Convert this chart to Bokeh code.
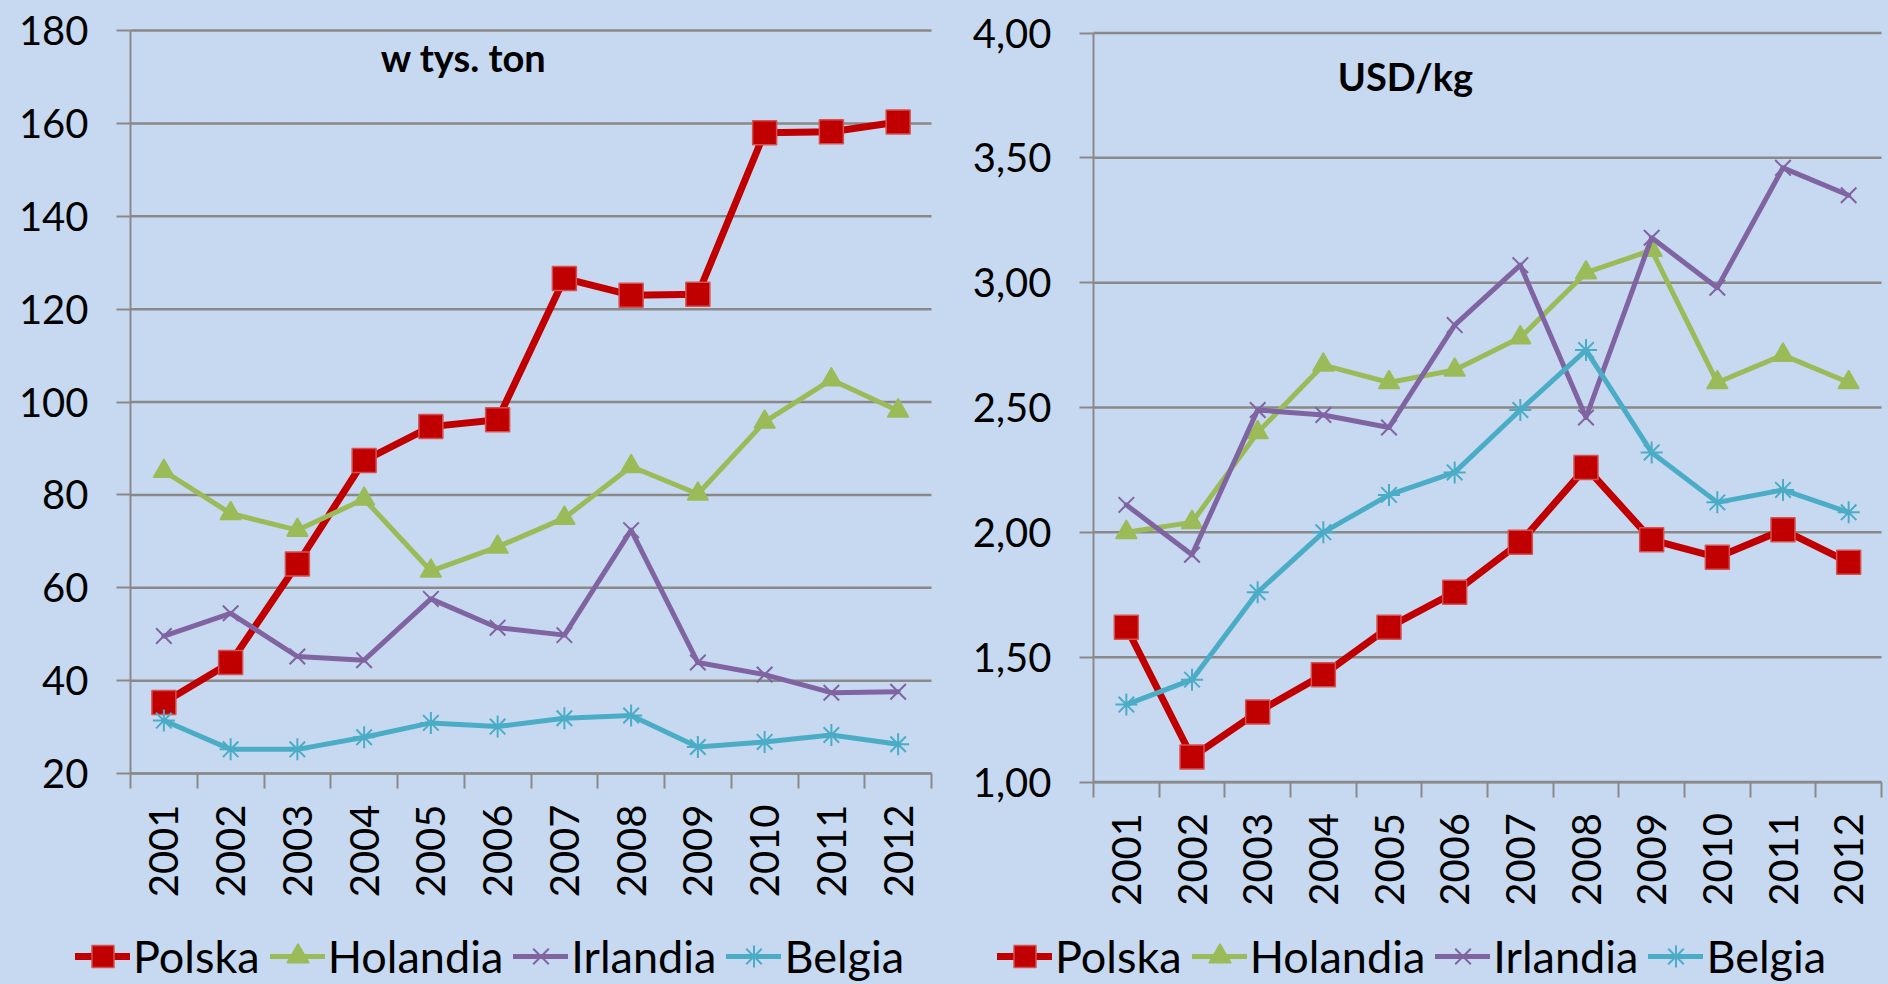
import math
from bokeh.plotting import figure
from bokeh.models import (Range1d, FixedTicker, Legend, LegendItem, Label, LinearAxis)
from bokeh.embed import file_html
from bokeh.resources import INLINE

# ---------------- data ----------------
years = ["2001", "2002", "2003", "2004", "2005", "2006",
         "2007", "2008", "2009", "2010", "2011", "2012"]
series_names = ["Polska", "Holandia", "Irlandia", "Belgia"]

# volume, thousand tonnes
vol_polska = [35.3, 43.9, 65.1, 87.4, 94.7, 96.2, 126.6, 123.0, 123.2, 158.0, 158.2, 160.3]
vol_holandia = [85.1, 76.0, 72.4, 79.1, 63.6, 68.8, 75.0, 86.1, 80.2, 95.7, 104.8, 98.1]
vol_irlandia = [49.6, 54.5, 45.2, 44.4, 57.6, 51.4, 49.8, 72.4, 43.9, 41.3, 37.4, 37.6]
vol_belgia = [31.4, 25.2, 25.2, 27.8, 30.9, 30.1, 31.9, 32.5, 25.7, 26.8, 28.3, 26.3]

# price, USD/kg
price_polska = [1.62, 1.10, 1.28, 1.43, 1.62, 1.76, 1.96, 2.26, 1.97, 1.90, 2.01, 1.88]
price_holandia = [2.00, 2.04, 2.40, 2.67, 2.60, 2.65, 2.78, 3.04, 3.13, 2.60, 2.71, 2.60]
price_irlandia = [2.11, 1.91, 2.49, 2.47, 2.42, 2.83, 3.07, 2.46, 3.18, 2.98, 3.46, 3.35]
price_belgia = [1.31, 1.41, 1.76, 2.00, 2.15, 2.24, 2.49, 2.73, 2.32, 2.12, 2.17, 2.08]

vol_ticks = [20, 40, 60, 80, 100, 120, 140, 160, 180]
price_ticks = [1.0, 1.5, 2.0, 2.5, 3.0, 3.5, 4.0]
price_tick_labels = ["1,00", "1,50", "2,00", "2,50", "3,00", "3,50", "4,00"]

# ---------------- style / layout ----------------
BG = "#C6D9F0"
GRID = "#898989"
FONT = "Lato"
W, H = 1888, 984          # visible page
HIDDEN_LEFT = 400         # reserved axis panel, shifted off-screen
styles = {
    "Polska": dict(color="#C00000", marker="square", lw=7, size=24, line="#D65050"),
    "Holandia": dict(color="#9BBB59", marker="triangle", lw=5, size=21, line="#9BBB59"),
    "Irlandia": dict(color="#8064A2", marker="x", lw=5, size=22, line="#8064A2"),
    "Belgia": dict(color="#4BACC6", marker="asterisk", lw=5, size=22, line="#4BACC6"),
}

xs = [i + 1 for i in range(len(years))]
x_lo, x_hi = 0.5, len(years) + 0.5

# plot-area pixel boxes of the two charts: (left, right, top, bottom)
box_vol = (130, 931, 30, 773)
box_price = (1093, 1881, 32.5, 781.5)


def ranges_for(box, ylo, yhi):
    l, r, t, b = box
    kx = (r - l) / (x_hi - x_lo)
    xs0 = x_lo - l / kx
    ky = (b - t) / (yhi - ylo)
    ys0 = ylo - (H - b) / ky
    return Range1d(xs0, xs0 + W / kx), Range1d(ys0, ys0 + H / ky)


vx_r, vy_r = ranges_for(box_vol, vol_ticks[0], vol_ticks[-1])
px_r, py_r = ranges_for(box_price, price_ticks[0], price_ticks[-1])

p = figure(frame_width=W, frame_height=H, output_backend="svg", toolbar_location=None,
           x_range=vx_r, y_range=vy_r,
           min_border_left=HIDDEN_LEFT, min_border_right=0, min_border_top=0,
           min_border_bottom=0)
p.extra_x_ranges = {"price": px_r}
p.extra_y_ranges = {"price": py_r}
p.background_fill_color = BG
p.border_fill_color = BG
p.outline_line_color = None
p.xgrid.visible = False
p.ygrid.visible = False


def style_xaxis(ax, ylo):
    ax.fixed_location = ylo
    ax.bounds = (x_lo, x_hi)
    ax.ticker = FixedTicker(ticks=xs, minor_ticks=[x - 0.5 for x in xs] + [xs[-1] + 0.5])
    ax.major_label_overrides = {x: y for x, y in zip(xs, years)}
    ax.major_label_orientation = math.pi / 2
    ax.major_tick_line_color = None
    ax.major_tick_out = 15
    ax.major_tick_in = 0
    ax.minor_tick_out = 15
    ax.minor_tick_in = 0
    ax.minor_tick_line_color = GRID
    ax.minor_tick_line_width = 2
    ax.axis_line_color = GRID
    ax.axis_line_width = 2
    ax.major_label_standoff = 16
    ax.major_label_text_font = FONT
    ax.major_label_text_font_size = "40px"
    ax.major_label_text_color = "black"


def style_yaxis(ax, ticks, overrides):
    ax.fixed_location = x_lo
    ax.bounds = (ticks[0], ticks[-1])
    ax.ticker = FixedTicker(ticks=ticks)
    if overrides:
        ax.major_label_overrides = overrides
    ax.major_tick_out = 14
    ax.major_tick_in = 0
    ax.minor_tick_line_color = None
    ax.major_tick_line_color = GRID
    ax.major_tick_line_width = 2
    ax.axis_line_color = GRID
    ax.axis_line_width = 2
    ax.major_label_standoff = 28
    ax.major_label_text_font = FONT
    ax.major_label_text_font_size = "40px"
    ax.major_label_text_color = "black"


# axes of the volume chart (default ranges)
style_xaxis(p.xaxis[0], vol_ticks[0])
style_yaxis(p.yaxis[0], vol_ticks, None)

# axes of the price chart
xa2 = LinearAxis(x_range_name="price", y_range_name="price")
style_xaxis(xa2, price_ticks[0])
p.add_layout(xa2, "below")
ya2 = LinearAxis(x_range_name="price", y_range_name="price")
style_yaxis(ya2, price_ticks, {t: l for t, l in zip(price_ticks, price_tick_labels)})
p.add_layout(ya2, "left")


def draw_chart(series, ticks, rname, title, title_pos, legend_x):
    kw = {} if rname is None else dict(x_range_name=rname, y_range_name=rname)
    # horizontal gridlines at the tick values
    p.segment(x0=[x_lo] * len(ticks), x1=[x_hi] * len(ticks), y0=ticks, y1=ticks,
              line_color=GRID, line_width=2.5, **kw)
    items = []
    for name, vals in zip(series_names, series):
        st = styles[name]
        ln = p.line(xs, vals, line_color=st["color"], line_width=st["lw"],
                    line_join="round", line_cap="round", **kw)
        if st["marker"] in ("x", "asterisk"):
            sc = p.scatter(xs, vals, marker=st["marker"], size=st["size"],
                           line_color=st["color"], line_width=2, **kw)
        else:
            sc = p.scatter(xs, vals, marker=st["marker"], size=st["size"],
                           fill_color=st["color"], line_color=st["line"], line_width=1.5, **kw)
        items.append(LegendItem(label=name, renderers=[ln, sc]))

    p.add_layout(Label(x=title_pos[0], y=title_pos[1], text=title, text_align="center",
                       text_baseline="middle", text_font=FONT, text_font_size="38px",
                       text_font_style="bold", text_color="black", **kw))

    legend = Legend(items=items, orientation="horizontal", location=(legend_x, 0),
                    padding=0, margin=0, spacing=10, label_standoff=3,
                    glyph_width=55, glyph_height=56,
                    label_text_font=FONT, label_text_font_size="45px",
                    label_text_color="black",
                    background_fill_alpha=0, border_line_alpha=0)
    p.add_layout(legend)


draw_chart([vol_polska, vol_holandia, vol_irlandia, vol_belgia], vol_ticks, None,
           "w tys. ton", (5.49, 174.2), 75)
draw_chart([price_polska, price_holandia, price_irlandia, price_belgia], price_ticks,
           "price", "USD/kg", (5.25, 3.826), 997)

html = file_html(p, INLINE)
css = ("<style>html,body{background:%s !important;margin:0 !important;padding:0 !important;"
       "overflow:hidden !important;}"
       "body{position:relative;left:-%dpx;width:calc(100%% + %dpx) !important;}</style>"
       % (BG, HIDDEN_LEFT, HIDDEN_LEFT))
html = html.replace("</head>", css + "</head>", 1)
with open("out.html", "w") as f:
    f.write(html)
